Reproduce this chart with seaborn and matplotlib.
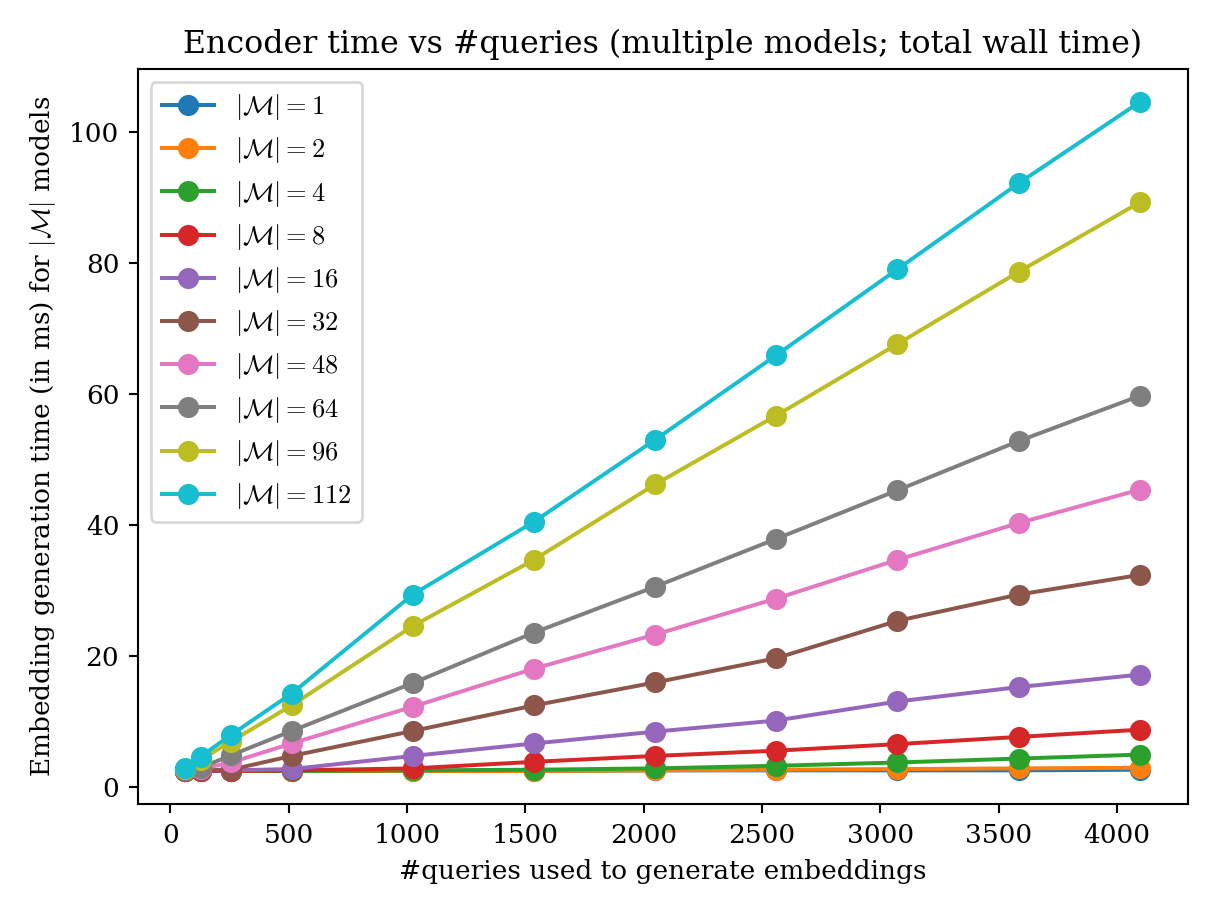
import matplotlib
matplotlib.use("Agg")
import matplotlib.pyplot as plt
import seaborn as sns
import pandas as pd

plt.rcParams['font.family'] = ['DejaVu Serif']
plt.rcParams['mathtext.fontset'] = 'cm'

queries = [64, 128, 256, 512, 1024, 1536, 2048, 2560, 3072, 3584, 4096]
models = [1, 2, 4, 8, 16, 32, 48, 64, 96, 112]
times = {
    1:   [2.5, 2.5, 2.5, 2.5, 2.5, 2.5, 2.6, 2.6, 2.6, 2.6, 2.7],
    2:   [2.5, 2.5, 2.5, 2.5, 2.5, 2.5, 2.6, 2.7, 2.8, 2.9, 3.0],
    4:   [2.5, 2.5, 2.5, 2.5, 2.6, 2.7, 2.9, 3.3, 3.8, 4.4, 5.0],
    8:   [2.5, 2.5, 2.5, 2.6, 2.9, 3.9, 4.8, 5.6, 6.6, 7.7, 8.8],
    16:  [2.5, 2.6, 2.6, 2.8, 4.8, 6.7, 8.5, 10.2, 13.1, 15.3, 17.2],
    32:  [2.5, 2.6, 2.7, 4.8, 8.6, 12.5, 16.0, 19.7, 25.4, 29.4, 32.4],
    48:  [2.6, 2.8, 3.8, 6.7, 12.3, 18.1, 23.3, 28.8, 34.7, 40.3, 45.4],
    64:  [2.6, 3.0, 4.9, 8.6, 15.9, 23.6, 30.6, 37.9, 45.3, 52.8, 59.7],
    96:  [2.8, 4.2, 7.0, 12.5, 24.6, 34.7, 46.2, 56.7, 67.6, 78.6, 89.2],
    112: [3.0, 4.7, 8.0, 14.3, 29.4, 40.5, 53.0, 65.9, 79.0, 92.1, 104.5],
}

rows = []
for m in models:
    for q, t in zip(queries, times[m]):
        rows.append({"q": q, "t": t, "m": r"$|\mathcal{M}|=%d$" % m})
df = pd.DataFrame(rows)

fig, ax = plt.subplots(figsize=(6.4, 4.8), dpi=190)
sns.lineplot(data=df, x="q", y="t", hue="m", palette="tab10", marker="o",
             markersize=8, markeredgewidth=0, linewidth=1.5, ax=ax)
ax.set_title("Encoder time vs #queries (multiple models; total wall time)")
ax.set_xlabel("#queries used to generate embeddings")
ax.set_ylabel(r"Embedding generation time (in ms) for $|\mathcal{M}|$ models")
ax.set_xticks([0, 500, 1000, 1500, 2000, 2500, 3000, 3500, 4000])
ax.legend(title=None, loc="upper left")
fig.tight_layout()
fig.savefig("out.png", dpi=190)
